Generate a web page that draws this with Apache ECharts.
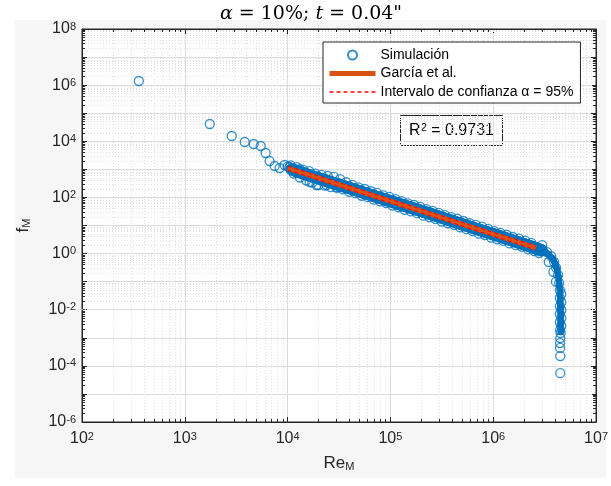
<!DOCTYPE html>
<html>
<head>
<meta charset="utf-8">
<script src="https://cdn.jsdelivr.net/npm/echarts@6.0.0/dist/echarts.min.js"></script>
<style>
  html, body { margin: 0; padding: 0; background: #ffffff; }
  #chart { width: 611px; height: 486px; }
</style>
</head>
<body>
<div id="chart"></div>
<script>
// ---- Simulation results (stored as log10 of Re_M and f_M) ----
// isolated points at low Reynolds numbers
const isolatedLogRe = [2.553, 3.243, 3.456, 3.583, 3.670, 3.738, 3.786, 3.825, 3.874, 3.922, 3.971, 4.000, 4.019, 4.078, 4.117, 4.214, 4.282, 4.379, 4.476];
const isolatedLogF  = [6.147, 4.616, 4.188, 3.974, 3.903, 3.832, 3.583, 3.297, 3.119, 3.048, 3.155, 3.100, 3.084, 2.905, 3.010, 2.549, 2.442, 2.442, 2.371];

// upper edge of the dense band
const bandUpLogRe = [4.03, 4.09, 4.15, 4.21, 4.27, 4.33, 4.39, 4.45, 4.51, 4.57, 4.63, 4.69, 4.75, 4.81, 4.87, 4.93, 4.99, 5.05, 5.11, 5.17,
                     5.23, 5.29, 5.35, 5.41, 5.47, 5.53, 5.59, 5.65, 5.71, 5.77, 5.83, 5.89, 5.95, 6.01, 6.07, 6.13, 6.19, 6.25, 6.31, 6.37];
const bandUpLogF  = [3.14, 3.08, 2.99, 2.94, 2.85, 2.80, 2.77, 2.73, 2.65, 2.54, 2.45, 2.36, 2.30, 2.22, 2.16, 2.07, 2.02, 1.94, 1.87, 1.79,
                     1.73, 1.66, 1.58, 1.52, 1.45, 1.37, 1.30, 1.24, 1.16, 1.08, 1.02, 0.96, 0.88, 0.80, 0.74, 0.67, 0.59, 0.53, 0.46, 0.38];

// lower edge of the dense band
const bandLowLogRe = [4.06, 4.12, 4.18, 4.24, 4.30, 4.36, 4.42, 4.48, 4.54, 4.60, 4.66, 4.72, 4.78, 4.84, 4.90, 4.96, 5.02, 5.08, 5.14, 5.20,
                      5.26, 5.32, 5.38, 5.44, 5.50, 5.56, 5.62, 5.68, 5.74, 5.80, 5.86, 5.92, 5.98, 6.04, 6.10, 6.16, 6.22, 6.28, 6.34, 6.40];
const bandLowLogF  = [2.85, 2.71, 2.61, 2.53, 2.44, 2.42, 2.37, 2.34, 2.29, 2.20, 2.15, 2.06, 2.01, 1.92, 1.86, 1.80, 1.71, 1.65, 1.56, 1.50,
                      1.44, 1.35, 1.29, 1.23, 1.14, 1.08, 1.02, 0.93, 0.87, 0.80, 0.71, 0.66, 0.57, 0.51, 0.45, 0.36, 0.30, 0.24, 0.15, 0.09];

// bend and near-vertical drop at the highest Reynolds numbers
const tailLogRe = [6.447, 6.476, 6.524, 6.540, 6.563, 6.585, 6.592, 6.610, 6.612, 6.631, 6.641, 6.648, 6.662, 6.648, 6.662, 6.648, 6.662, 6.648,
                   6.662, 6.648, 6.662, 6.650, 6.656, 6.652, 6.650, 6.650, 6.652, 6.652];
const tailLogF  = [0.02, 0.30, 0.055, -0.30, -0.09, -0.65, -0.30, -1.00, -0.51, -0.76, -1.05, -1.30, -1.44, -1.58, -1.73, -1.87, -2.01, -2.15,
                   -2.30, -2.44, -2.58, -2.72, -2.83, -3.01, -3.19, -3.36, -3.65, -4.26];

// centre line of the densest part of the cloud (band and drop)
const coreLogRe = [4.04, 4.20, 4.50, 4.80, 5.10, 5.40, 5.70, 6.00, 6.30, 6.47];
const coreLogF  = [3.00, 2.80, 2.45, 2.10, 1.75, 1.40, 1.04, 0.69, 0.33, 0.12];
const dropLogRe = [6.44, 6.52, 6.575, 6.61, 6.635, 6.648, 6.655, 6.655];
const dropLogF  = [0.17, 0.02, -0.16, -0.42, -0.82, -1.30, -2.00, -2.80];

// ---- García et al. correlation and its 95 % confidence band ----
const fitRe    = [1.0e4, 2.6e6];
const fitF     = [1117, 1.58];
const ciUpperF = [1300, 1.84];
const ciLowerF = [960, 1.36];

// ---- axes ----
const X_MIN = 1e2, X_MAX = 1e7, Y_MIN = 1e-6, Y_MAX = 1e8;
const R2_TEXT = '0.9731';

const GRID = { left: 82, right: 14, top: 29, bottom: 64 };
const W = 611, H = 486;
const plotW = W - GRID.left - GRID.right;
const plotH = H - GRID.top - GRID.bottom;
const pxPerDecX = plotW / Math.log10(X_MAX / X_MIN);
const pxPerDecY = plotH / Math.log10(Y_MAX / Y_MIN);

const BLUE = '#0072BD', ORANGE = '#D95319', RED = '#FF0000', AXIS = '#262626';
const SANS = 'Liberation Sans, Arial, sans-serif';
const SERIF = 'DejaVu Serif, serif';
const SIM = 'Simulación';
const FIT = 'García et al.';
const CI = 'Intervalo de confianza α = 95%';

const toPoints = (lx, ly) => lx.map((v, i) => [Math.pow(10, v), Math.pow(10, ly[i])]);
// consecutive point pairs, drawn as thick joined segments
const toSegments = pts => pts.slice(1).map((p, i) => [{ coord: pts[i] }, { coord: p }]);

const corePoints = toPoints(coreLogRe, coreLogF);
const dropPoints = toPoints(dropLogRe, dropLogF);

const simPoints = [].concat(
  toPoints(isolatedLogRe, isolatedLogF),
  toPoints(bandUpLogRe, bandUpLogF),
  toPoints(bandLowLogRe, bandLowLogF),
  toPoints(tailLogRe, tailLogF)
);

// minor grid lines and minor ticks (2..9 x 10^k) for the log axes
function minorValues(kLo, kHi) {
  const v = [];
  for (let k = kLo; k < kHi; k++) for (let m = 2; m <= 9; m++) v.push(m * Math.pow(10, k));
  return v;
}
const xMinor = minorValues(2, 7);
const yMinor = minorValues(-6, 8);

const fx = Math.pow(10, 3 / pxPerDecX);
const fy = Math.pow(10, 3 / pxPerDecY);

const minorGridLines = []
  .concat(xMinor.map(v => ({ xAxis: v })))
  .concat(yMinor.map(v => ({ yAxis: v })));

const tickSegs = [];
xMinor.forEach(v => {
  tickSegs.push([{ coord: [v, Y_MIN] }, { coord: [v, Y_MIN * fy] }]);
  tickSegs.push([{ coord: [v, Y_MAX] }, { coord: [v, Y_MAX / fy] }]);
});
yMinor.forEach(v => {
  tickSegs.push([{ coord: [X_MIN, v] }, { coord: [X_MIN * fx, v] }]);
  tickSegs.push([{ coord: [X_MAX, v] }, { coord: [X_MAX / fx, v] }]);
});

// "10^n" labels; the y axis is labelled every second decade
const powLabel = step => value => {
  const e = Math.round(Math.log10(value));
  if (e % step !== 0) return '';
  return '{b|10}{e|' + e + '}';
};
const powRich = {
  b: { fontSize: 16, lineHeight: 16, padding: [6, 0, 0, 0], verticalAlign: 'bottom', fontFamily: SANS, color: AXIS },
  e: { fontSize: 11, lineHeight: 11, verticalAlign: 'top', fontFamily: SANS, color: AXIS }
};
const nameRich = {
  a: { fontFamily: SANS, fontSize: 17, lineHeight: 17, verticalAlign: 'top', color: AXIS },
  s: { fontFamily: SANS, fontSize: 11, lineHeight: 11, verticalAlign: 'bottom', padding: [9, 0, 0, 0], color: AXIS }
};

const markerBase = {
  silent: true, symbol: ['none', 'none'], label: { show: false }, animation: false
};

const logAxis = (min, max, position, extra) => Object.assign({
  type: 'log', logBase: 10, min: min, max: max, interval: 1, position: position,
  axisLine: { show: true, lineStyle: { color: AXIS, width: 1 } },
  axisTick: { show: true, inside: true, length: 5, lineStyle: { color: AXIS } },
  axisLabel: { show: false },
  splitLine: { show: false }
}, extra);

const staticGraphics = [
  { id: 'panel', type: 'rect', z: -10, silent: true, shape: { x: 15, y: 20, width: 591, height: 458 }, style: { fill: '#f6f6f6' } },
  {
    id: 'title', type: 'text', x: 311, y: 14, silent: true,
    style: {
      text: '{i|α}{n| = 10%; }{i|t}{n| = 0.04"}',
      align: 'center', verticalAlign: 'middle',
      rich: {
        i: { fontFamily: SERIF, fontStyle: 'italic', fontSize: 19, fill: '#000' },
        n: { fontFamily: SERIF, fontSize: 19, fill: '#000' }
      }
    }
  },
  {
    id: 'r2', type: 'group', left: 400, top: 115, z: 20,
    children: [
      { type: 'rect', shape: { x: 0, y: 0, width: 102, height: 30 }, style: { fill: '#ffffff', stroke: AXIS, lineWidth: 1 } },
      {
        type: 'text', x: 51, y: 15,
        style: {
          text: '{r|R}{s|2}{r| = ' + R2_TEXT + '}',
          align: 'center', verticalAlign: 'middle',
          rich: {
            r: { fontFamily: SANS, fontSize: 16, lineHeight: 16, padding: [5, 0, 0, 0], verticalAlign: 'bottom', fill: '#000' },
            s: { fontFamily: SANS, fontSize: 11, lineHeight: 11, verticalAlign: 'top', fill: '#000' }
          }
        }
      }
    ]
  }
];

const chart = echarts.init(document.getElementById('chart'), null, { renderer: 'canvas', width: W, height: H });

const option = {
  animation: false,
  backgroundColor: '#ffffff',
  graphic: staticGraphics,
  legend: {
    orient: 'vertical',
    left: 323, top: 42,
    padding: [6, 7, 4, 4],
    itemWidth: 46, itemHeight: 9, itemGap: 4.5,
    backgroundColor: '#ffffff',
    borderColor: AXIS, borderWidth: 1, borderRadius: 0,
    textStyle: { fontFamily: SANS, fontSize: 14, color: '#000' },
    selectedMode: false,
    data: [
      { name: SIM, icon: 'circle' },
      { name: FIT, itemStyle: { opacity: 0 }, lineStyle: { width: 5, color: ORANGE } },
      { name: CI, itemStyle: { opacity: 0 }, lineStyle: { width: 1.5, color: RED, type: [4, 3], opacity: 1 } }
    ]
  },
  grid: {
    left: GRID.left, right: GRID.right, top: GRID.top, bottom: GRID.bottom,
    show: true, backgroundColor: '#ffffff', borderColor: AXIS, borderWidth: 1
  },
  xAxis: [
    logAxis(X_MIN, X_MAX, 'bottom', {
      axisLabel: { margin: 9, interval: 0, hideOverlap: false, formatter: powLabel(1), rich: powRich },
      splitLine: { show: true, lineStyle: { color: '#dcdcdc', width: 1 } },
      name: '{a|Re}{s|M}', nameLocation: 'middle', nameGap: 33,
      nameTextStyle: { rich: nameRich }
    }),
    logAxis(X_MIN, X_MAX, 'top')
  ],
  yAxis: [
    logAxis(Y_MIN, Y_MAX, 'left', {
      axisLabel: { margin: 6, interval: 0, hideOverlap: false, formatter: powLabel(2), rich: powRich },
      splitLine: { show: true, lineStyle: { color: '#dcdcdc', width: 1 } },
      name: '{a|f}{s|M}', nameLocation: 'middle', nameGap: 50, nameRotate: 90,
      nameTextStyle: { rich: nameRich }
    }),
    logAxis(Y_MIN, Y_MAX, 'right')
  ],
  series: [
    {
      name: 'minorGrid', type: 'line', data: [], z: 1,
      markLine: Object.assign({}, markerBase, {
        z: 1,
        lineStyle: { color: '#e2e2e2', width: 1, type: [1, 2] },
        data: minorGridLines
      })
    },
    {
      name: 'minorTicks', type: 'line', data: [], z: 2,
      markLine: Object.assign({}, markerBase, {
        z: 2,
        lineStyle: { color: AXIS, width: 1, type: 'solid' },
        data: tickSegs
      })
    },
    {
      name: SIM, type: 'scatter', z: 3,
      data: simPoints,
      symbol: 'circle', symbolSize: 9,
      itemStyle: { color: 'none', borderColor: BLUE, borderWidth: 1.3 }
    },
    {
      // dense core of the simulation cloud along the band
      name: 'simCore', type: 'line', z: 4,
      data: corePoints,
      symbol: 'none',
      lineStyle: { color: BLUE, width: 12 }
    },
    {
      // dense core of the near-vertical drop
      name: 'simDrop', type: 'line', z: 4,
      data: dropPoints,
      symbol: 'none',
      lineStyle: { color: BLUE, width: 6 }
    },
    {
      name: FIT, type: 'line', z: 5,
      data: fitRe.map((x, i) => [x, fitF[i]]),
      symbol: 'none',
      lineStyle: { color: ORANGE, width: 5 },
      markLine: Object.assign({}, markerBase, {
        z: 4,
        lineStyle: { color: BLUE, width: 12, type: 'solid', cap: 'round' },
        data: toSegments(corePoints)
      })
    },
    {
      name: CI, type: 'line', z: 6,
      data: fitRe.map((x, i) => [x, ciUpperF[i]]),
      symbol: 'none',
      lineStyle: { color: RED, width: 1, type: [4, 3] },
      markLine: Object.assign({}, markerBase, {
        z: 4,
        lineStyle: { color: BLUE, width: 6, type: 'solid', cap: 'round' },
        data: toSegments(dropPoints)
      })
    },
    {
      name: CI, type: 'line', z: 6,
      data: fitRe.map((x, i) => [x, ciLowerF[i]]),
      symbol: 'none',
      lineStyle: { color: RED, width: 1, type: [4, 3] }
    }
  ]
};

chart.setOption(option);

// dense core, also placed through the axes' own pixel mapping
const toPixels = pts => pts.map(p => chart.convertToPixel({ xAxisIndex: 0, yAxisIndex: 0 }, p));
chart.setOption({
  graphic: staticGraphics.concat([
    {
      id: 'coreBand', type: 'polyline', z: 4, silent: true,
      shape: { points: toPixels(corePoints) },
      style: { stroke: BLUE, lineWidth: 12, fill: 'none', lineCap: 'round', lineJoin: 'round' }
    },
    {
      id: 'coreDrop', type: 'polyline', z: 4, silent: true,
      shape: { points: toPixels(dropPoints) },
      style: { stroke: BLUE, lineWidth: 6, fill: 'none', lineCap: 'round', lineJoin: 'round' }
    }
  ])
});
</script>
</body>
</html>
